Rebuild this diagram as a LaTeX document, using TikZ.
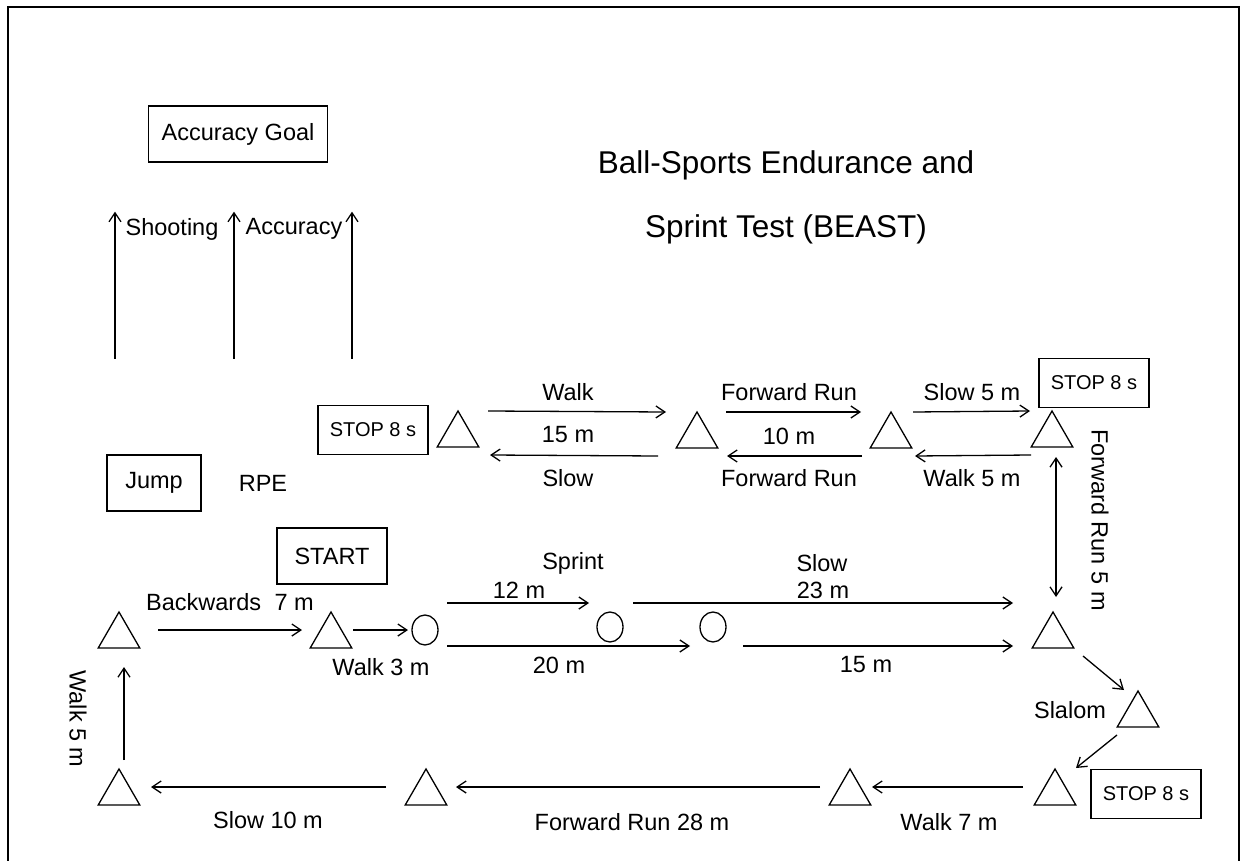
\documentclass[tikz,border=0pt]{standalone}
\usepackage{fontspec}
\setmainfont{Liberation Sans}
\usetikzlibrary{arrows.meta,shapes,calc}
\tikzset{
    flow/.style={-{Straight Barb[length=9pt,width=12pt]}, line width=1.3pt},
    twoway/.style={{Straight Barb[length=9pt,width=12pt]}-{Straight Barb[length=9pt,width=12pt]}, line width=1.3pt},
    cone/.style={draw, regular polygon, regular polygon sides=3, minimum size=48pt, inner sep=0pt, line width=1.3pt},
    ball/.style={draw, ellipse, minimum width=26pt, minimum height=30pt, inner sep=0pt, line width=1.3pt},
    station/.style={draw, line width=1.3pt, minimum height=56pt, font=\fontsize{23.5}{27}\selectfont},
    stopbox/.style={draw, line width=1.3pt, minimum width=110pt, minimum height=49pt, font=\fontsize{20}{24}\selectfont},
    lbl/.style={font=\fontsize{23.5}{27}\selectfont, inner sep=0pt}
}
\begin{document}
\begin{tikzpicture}[x=1pt, y=-1pt]
\useasboundingbox (0,0) rectangle (1245,861);
\draw[line width=2.5pt] (8,875) -- (8,7) -- (1239,7) -- (1239,875);

\node[station, minimum width=179pt] (goal) at (238,134) {Accuracy Goal};
\node[station, minimum width=94pt] (jump) at (154,483) {Jump};
\node[station, minimum width=110pt] (start) at (332,556) {START};
\node[lbl] (rpe) at (263,483) {RPE};
\node[align=center, font=\fontsize{31.5}{64}\selectfont] (title) at (786,197) {Ball-Sports Endurance and\\Sprint Test (BEAST)};

\foreach \dx in {-123,-4,114}
    \draw[flow] ($(goal.south)+(\dx,196)$) -- ($(goal.south)+(\dx,49)$);
\node[lbl] (shoot) at (172,229) {Shooting};
\node[lbl] (accu) at (294,229) {Accuracy};

% cones (placed at their centroids)
\node[cone] (tA) at (458,435) {};
\node[cone] (tB) at (697,436) {};
\node[cone] (tC) at (891,436) {};
\node[cone] (tD) at (1052,435) {};
\node[cone] (tE) at (1053,636) {};
\node[cone] (tF) at (1138,715) {};
\node[cone] (tG) at (1055,793) {};
\node[cone] (tH) at (850,793) {};
\node[cone] (tI) at (426,793) {};
\node[cone] (tJ) at (119,793) {};
\node[cone] (tK) at (119,636) {};
\node[cone] (tL) at (331,636) {};
\node[ball] (cA) at (425,630) {};
\node[ball] (cB) at (610,627) {};
\node[ball] (cC) at (713,627) {};

\node[stopbox] (stopA) at (373,430) {STOP 8 s};
\node[stopbox] (stopB) at (1094,383) {STOP 8 s};
\node[stopbox] (stopC) at (1146,794) {STOP 8 s};

\draw[flow] ($(tA)+(30,-24)$) -- ($(tB)+(-31,-24)$);
\draw[flow] ($(tB)+(-39,20)$) -- ($(tA)+(32,20)$);
\draw[flow] ($(tB)+(29,-24)$) -- ($(tC)+(-30,-24)$);
\draw[flow] ($(tC)+(-29,20)$) -- ($(tB)+(30,20)$);
\draw[flow] ($(tC)+(22,-24)$) -- ($(tD)+(-22,-24)$);
\draw[flow] ($(tD)+(-21,20)$) -- ($(tC)+(24,20)$);
\draw[twoway] ($(tD)+(4,22)$) -- ($(tE)+(3,-39)$);
\node[lbl] (walkA) at (568,392) {Walk};
\node[lbl] (distA) at (568,435) {15 m};
\node[lbl] (slowA) at (568,478) {Slow};
\node[lbl] (runA) at (789,392) {Forward Run};
\node[lbl] (distB) at (789,436) {10 m};
\node[lbl] (runB) at (789,478) {Forward Run};
\node[lbl] (slowB) at (972,392) {Slow 5 m};
\node[lbl] (walkB) at (972,478) {Walk 5 m};
\node[lbl, rotate=-90] (runC) at (1100,520) {Forward Run 5 m};

\draw[flow] ($(tK)+(39,-6)$) -- ($(tL)+(-29,-6)$);
\draw[flow] ($(tL)+(22,-6)$) -- ($(cA)+(-17,0)$);
\draw[flow] ($(cA)+(22,-27)$) -- ($(cB)+(-21,-24)$);
\draw[flow] ($(cA)+(22,16)$) -- ($(cC)+(-23,19)$);
\draw[flow] ($(cB)+(23,-24)$) -- ($(tE)+(-40,-33)$);
\draw[flow] ($(cC)+(30,19)$) -- ($(tE)+(-40,10)$);
\node[lbl] (back) at (230,602) {Backwards\hspace{7pt} 7 m};
\node[lbl] (walkC) at (381,667) {Walk 3 m};
\node[lbl] (sprint) at (573,563) {Sprint};
\node[lbl] (distC) at (519,590) {12 m};
\node[lbl] (distD) at (559,665) {20 m};
\node[lbl] (slowC) at (822,563) {Slow};
\node[lbl] (distE) at (823,590) {23 m};
\node[lbl] (distF) at (866,665) {15 m};

\draw[flow] ($(tE)+(30,20)$) -- ($(tF)+(-14,-25)$);
\draw[flow] ($(tF)+(-21,20)$) -- ($(tG)+(21,-25)$);
\draw[flow] ($(tG)+(-32,-6)$) -- ($(tH)+(22,-6)$);
\draw[flow] ($(tH)+(-30,-6)$) -- ($(tI)+(30,-6)$);
\draw[flow] ($(tI)+(-40,-6)$) -- ($(tJ)+(32,-6)$);
\draw[flow] ($(tJ)+(5,-33)$) -- ($(tK)+(5,31)$);
\node[lbl] (slalom) at (1070,710) {Slalom};
\node[lbl] (walkD) at (949,822) {Walk 7 m};
\node[lbl] (runD) at (632,822) {Forward Run 28 m};
\node[lbl] (slowD) at (268,820) {Slow 10 m};
\node[lbl, rotate=-90] (walkE) at (78,719) {Walk 5 m};
\end{tikzpicture}
\end{document}
